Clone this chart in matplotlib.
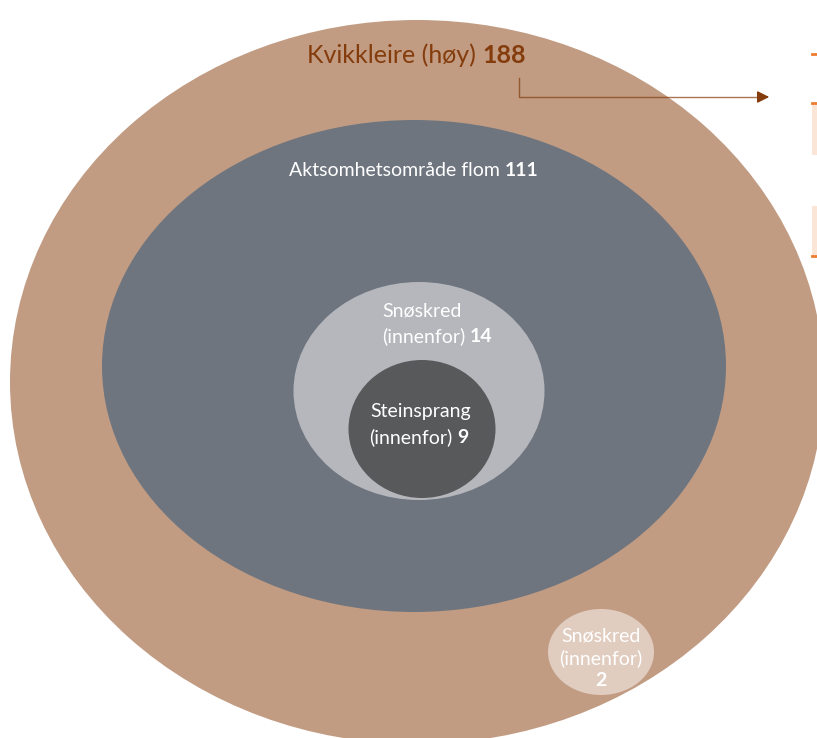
import matplotlib.pyplot as plt
from matplotlib.patches import Ellipse, Rectangle

plt.rcParams['font.family'] = ['Lato', 'DejaVu Sans']

# areas: label, count, center (px), width, height, colour
names = ["Kvikkleire (høy)", "Aktsomhetsområde flom", "Snøskred", "Steinsprang", "Snøskred"]
counts = [188, 111, 14, 9, 2]
centers = [(417, 382), (414, 366), (419, 391), (422, 429), (601, 652)]
sizes = [(814, 724), (624, 492), (251, 218), (147, 138), (106, 86)]
colors = ["#C19C83", "#6E757F", "#B5B7BC", "#58595B", "#E1CDC0"]

fig = plt.figure(figsize=(8.17, 7.38), dpi=100)
ax = fig.add_axes([0, 0, 1, 1])
ax.set_xlim(0, 817)
ax.set_ylim(738, 0)
ax.axis("off")

for c, (w, h), col in zip(centers, sizes, colors):
    ax.add_patch(Ellipse(c, w, h, color=col, lw=0))

# cut-off boxes at right edge
ax.plot([812, 817], [54, 54], color="#ED7D31", lw=2)
ax.add_patch(Rectangle((812, 103), 6, 52, facecolor="#FBE5D6", edgecolor="none"))
ax.plot([812, 817], [103, 103], color="#ED7D31", lw=2)
ax.add_patch(Rectangle((812, 206), 6, 50, facecolor="#FBE5D6", edgecolor="none"))
ax.plot([812, 817], [256, 256], color="#ED7D31", lw=2)

# connector arrow
brown = "#843C0C"
ax.plot([519, 519, 760], [78, 97, 97], color=brown, lw=1, alpha=0.7)
ax.annotate("", xy=(772, 97), xytext=(755, 97),
            arrowprops=dict(arrowstyle="-|>", color=brown, lw=1, mutation_scale=18))


def label(x, y, regular, bold, color="white", size=14):
    t = ax.text(x, y, regular, ha="left", va="center", color=color, fontsize=size)
    ax.annotate(bold, xy=(1, 0), xycoords=t, xytext=(size * 0.25, 0),
                textcoords="offset points", ha="left", va="bottom",
                color=color, fontsize=size, fontweight="bold")


label(307, 55, names[0], str(counts[0]), color=brown, size=18)
label(289, 170, names[1], str(counts[1]))

ax.text(382, 311, names[2], ha="left", va="center", color="white", fontsize=14)
label(382, 336, "(innenfor)", str(counts[2]))

ax.text(370, 412, names[3], ha="left", va="center", color="white", fontsize=14)
label(369, 437, "(innenfor)", str(counts[3]))

ax.text(601, 636, names[4], ha="center", va="center", color="white", fontsize=14)
ax.text(601, 658, "(innenfor)", ha="center", va="center", color="white", fontsize=14)
ax.text(601, 680, str(counts[4]), ha="center", va="center", color="white", fontsize=14, fontweight="bold")

fig.savefig("out.png", dpi=100)
